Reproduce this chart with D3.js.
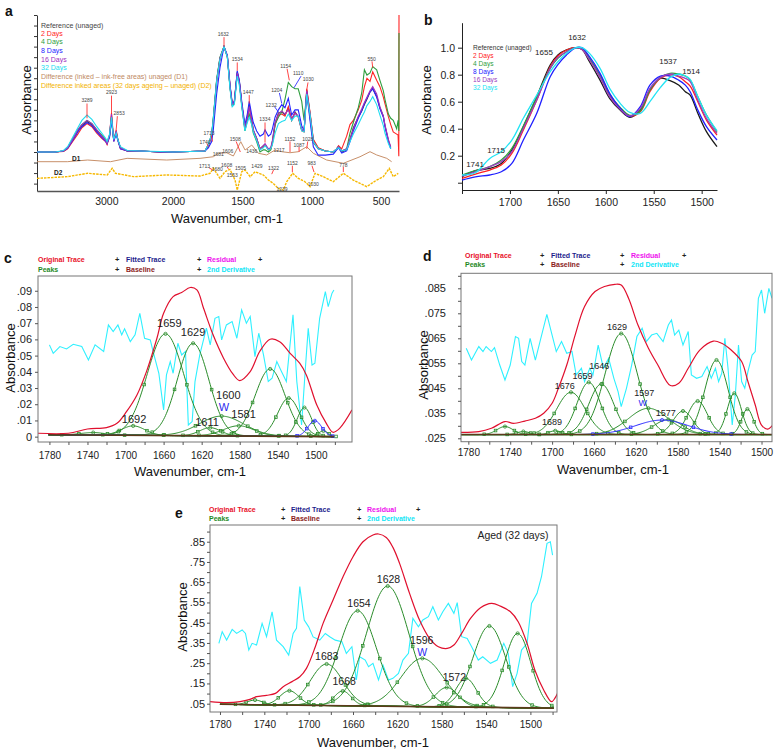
<!DOCTYPE html>
<html><head><meta charset="utf-8">
<script src="https://cdn.jsdelivr.net/npm/d3@7/dist/d3.min.js"></script>
<style>
html,body{margin:0;padding:0;background:#fff;}
svg text{font-family:"Liberation Sans",Arial,Helvetica,sans-serif;}
</style></head><body>
<svg id="fig" width="776" height="752"></svg>
<script>
// ================= DATA =================
// ---- Panel a: FTIR spectra (relative absorbance) ----
const aWn = [4150,3834,3693,3623,3535,3447,3377,3289,3216,3143,
3069,3011,2989,2952,2923,2904,2889,2853,2829,2789,
2685,2491,2194,2000,1877,1769,1745,1721,1710,1685,
1661,1632,1608,1589,1573,1558,1537,1522,1505,1482,
1465,1451,1433,1422,1398,1374,1350,1338,1314,1297,
1285,1266,1242,1218,1195,1171,1147,1123,1100,1075,
1058,1039,1015,990,953,900,840,815,801,777,
740,715,690,653,627,607,588,565,546,524,
506,487,478,459,446,432,413,405,401,400];
const aRef = [0,0,0.01,0.04,0.12,0.2,0.25,0.29,0.26,0.2,
0.15,0.11,0.08,0.15,0.34,0.2,0.11,0.19,0.12,0.04,
0.01,0.01,0,0,0.005,0.01,0.067,0.16,0.3,0.68,
0.89,1.0,0.905,0.62,0.45,0.47,0.76,0.67,0.46,0.225,
0.32,0.45,0.3,0.21,0.13,0.03,0.06,0.07,0.02,0.03,
0.1,0.27,0.37,0.38,0.35,0.42,0.3,0.38,0.335,0.21,
0.2,0.59,0.37,0.11,0.035,0.01,0,0.03,0.05,0,
0.02,0.12,0.23,0.33,0.39,0.45,0.5,0.57,0.6,0.53,
0.42,0.34,0.25,0.11,0.04,null,null,null,null,null];
const aDay2 = [0,0,0.005,0.03,0.1,0.17,0.23,0.27,0.24,0.18,
0.13,0.1,0.07,0.16,0.37,0.22,0.1,0.21,0.12,0.03,
0.01,0.01,0,0,0.005,0.01,0.06,0.15,0.28,0.66,
0.88,1.0,0.91,0.63,0.46,0.48,0.74,0.66,0.45,0.22,
0.3,0.43,0.29,0.2,0.12,0.03,0.05,0.07,0.02,0.03,
0.09,0.26,0.35,0.36,0.34,0.43,0.31,0.37,0.33,0.2,
0.19,0.6,0.38,0.12,0.04,0.01,0,0.03,0.06,0.03,
0.15,0.26,0.3,0.4,0.49,0.62,0.7,0.67,0.76,0.68,
0.62,0.52,0.46,0.335,0.26,0.19,0.17,0.16,-0.04,1.3];
const aDay4 = [0,0,0.01,0.04,0.13,0.21,0.26,0.3,0.27,0.21,
0.16,0.12,0.09,0.16,0.33,0.2,0.12,0.18,0.12,0.04,
0.01,0.01,0,0,0.005,0.01,0.07,0.17,0.31,0.69,
0.9,1.0,0.9,0.61,0.44,0.46,0.75,0.66,0.45,0.2,
0.3,0.36,0.26,0.18,0.1,0.0,0.02,0.02,0.0,0.02,
0.08,0.26,0.33,0.38,0.5,0.66,0.62,0.6,0.6,0.48,
0.3,0.56,0.33,0.09,0.03,0.01,0,0.03,0.05,0.01,
0.03,0.18,0.28,0.42,0.56,0.78,0.73,0.75,0.81,0.78,
0.68,0.58,0.5,0.36,0.32,0.3,0.22,0.3,0.2,1.13];
const aDay8 = [0,0,0.01,0.035,0.11,0.19,0.24,0.28,0.25,0.19,
0.14,0.1,0.08,0.14,0.3,0.19,0.1,0.17,0.11,0.03,
0.01,0.01,0,0,0.005,0.01,0.04,0.1,0.2,0.55,
0.8,1.0,0.92,0.64,0.46,0.48,0.77,0.68,0.48,0.26,
0.36,0.48,0.35,0.28,0.2,0.15,0.17,0.21,0.15,0.17,
0.22,0.33,0.4,0.45,0.42,0.51,0.35,0.4,0.4,0.25,
0.2,0.57,0.3,0.05,-0.03,-0.03,-0.02,0.02,0.04,-0.01,
0.01,0.1,0.2,0.32,0.39,0.46,0.51,0.57,0.6,0.52,
0.41,0.33,0.24,0.1,0.03,null,null,null,null,null];
const aDay16 = [0,0,0.01,0.04,0.12,0.21,0.26,0.3,0.27,0.21,
0.15,0.11,0.08,0.16,0.36,0.21,0.11,0.2,0.12,0.04,
0.01,0.01,0,0,0.005,0.01,0.065,0.16,0.29,0.67,
0.89,1.0,0.91,0.62,0.45,0.47,0.75,0.66,0.46,0.22,
0.31,0.43,0.29,0.21,0.13,0.03,0.06,0.08,0.03,0.04,
0.11,0.28,0.36,0.39,0.36,0.4,0.31,0.37,0.34,0.21,
0.2,0.58,0.36,0.1,0.03,0.01,0,0.03,0.05,0.01,
0.03,0.12,0.22,0.34,0.41,0.47,0.52,0.58,0.62,0.55,
0.43,0.34,0.26,0.12,0.05,null,null,null,null,null];
const aDay32 = [0,0,0.015,0.05,0.14,0.23,0.3,0.35,0.31,0.24,
0.18,0.13,0.1,0.17,0.33,0.2,0.12,0.18,0.12,0.05,
0.015,0.01,0.005,0,0.005,0.01,0.07,0.17,0.3,0.67,
0.88,1.0,0.9,0.6,0.43,0.45,0.72,0.63,0.43,0.2,
0.28,0.33,0.26,0.19,0.11,0.02,0.04,0.06,0.02,0.03,
0.07,0.18,0.27,0.29,0.3,0.36,0.3,0.34,0.34,0.2,
0.19,0.55,0.36,0.1,0.03,0.01,0,0.03,0.04,0.01,
0.02,0.1,0.17,0.26,0.33,0.38,0.44,0.48,0.525,0.45,
0.35,0.25,0.18,0.08,0.03,null,null,null,null,null];
const aD1 = [[4150,-0.092],[3628,-0.092],[3279,-0.076],[2938,-0.092],[2689,-0.06],[2094,-0.076],[1805,-0.06],[1709,-0.045],[1673,-0.012],[1613,-0.007],[1565,-0.038],[1512,0.098],[1481,0.019],[1433,0.066],[1386,-0.012],[1326,-0.028],[1266,0.019],[1218,0.003],[1159,-0.007],[1099,0.003],[1039,0.05],[990,-0.012],[890,-0.076],[765,-0.107],[640,-0.045],[565,0.003],[524,-0.028],[468,-0.06],[441,-0.092]];
const aD2 = [[4150,-0.25],[3628,-0.234],[3279,-0.202],[2986,-0.218],[2913,-0.155],[2864,-0.202],[2591,-0.234],[2094,-0.218],[1805,-0.228],[1733,-0.202],[1709,-0.155],[1661,-0.25],[1625,-0.187],[1589,-0.165],[1553,-0.266],[1537,-0.361],[1505,-0.187],[1481,-0.171],[1445,-0.234],[1409,-0.187],[1350,-0.218],[1314,-0.266],[1279,-0.297],[1243,-0.345],[1207,-0.361],[1183,-0.282],[1140,-0.202],[1099,-0.25],[1052,-0.282],[1015,-0.329],[977,-0.202],[915,-0.234],[840,-0.282],[765,-0.202],[690,-0.266],[590,-0.329],[524,-0.266],[487,-0.234],[454,-0.155],[432,-0.234],[404,-0.202]];
const aTicks = [3000,2000,1500,1000,500];
const aSeriesNames = ["Reference (unaged)","2 Days","4 Days","8 Days","16 Days","32 Days"];
const aDiffNames = ["Difference (inked \u2013 ink-free areas) unaged (D1)","Difference inked areas (32 days ageing \u2013 unaged)  (D2)"];
const aPeakLabels = [["3289",3289,0.497],["2923",2923,0.565],["2853",2808,0.37],["1632",1637,1.12],["1534",1537,0.88],["1447",1458,0.57],["1334",1339,0.313],["1232",1294,0.45],["1204",1254,0.59],["1154",1190,0.817],["1110",1100,0.75],["1030",1028,0.693],["550",553,0.883],["1713",1740,0.18],["1740",1769,0.095],["1508",1551,0.126],["1436",1433,0.005],["1681",1673,-0.02],["1606",1605,0.005],["1217",1238,0.02],["1152",1159,0.12],["1087",1094,0.07],["1028",1032,0.123],["1713",1772,-0.13],["1680",1680,-0.16],["1608",1613,-0.12],["1553",1573,-0.22],["1505",1514,-0.152],["1429",1396,-0.136],["1322",1277,-0.155],["1239",1216,-0.35],["1152",1142,-0.107],["983",1002,-0.107],["1030",990,-0.30],["778",765,-0.12]];
const aLeaders = [[3289,0.46,3289,0.32,"r"],[2923,0.535,2923,0.37,"r"],[2835,0.34,2853,0.21,"r"],[1632,1.09,1632,1.0,"r"],[1537,0.85,1537,0.77,"r"],[1451,0.54,1451,0.46,"r"],[1338,0.28,1338,0.09,"r"],[1270,0.43,1242,0.38,"b"],[1235,0.56,1218,0.46,"b"],[1180,0.79,1164,0.68,"r"],[1080,0.72,1130,0.61,"b"],[1030,0.66,1039,0.59,"r"],[550,0.86,546,0.8,"r"],[1725,0.16,1715,0.1,"r"],[1755,0.08,1745,0.05,"r"],[1545,0.1,1515,0.0,"r"],[1159,0.1,1159,0.0,"r"],[1094,0.05,1094,0.0,"r"],[1032,0.1,1039,0.03,"r"],[1740,-0.15,1713,-0.17,"r"],[1610,-0.14,1600,-0.16,"r"],[1277,-0.17,1290,-0.21,"r"],[1142,-0.13,1142,-0.19,"r"],[1000,-0.13,985,-0.19,"r"],[765,-0.14,765,-0.19,"r"]];

// ---- Panel b: normalised amide region ----
const bWn = [1750,1736,1721,1709,1698,1686,1672,1658,1650,1641,1631,1625,1617,1606,1596,1585,1575,1564,1554,1543,1533,1524,1517,1512,1504,1495,1484];
const bRef = [0.044,0.089,0.106,0.143,0.242,0.415,0.637,0.872,0.946,0.983,1.0,0.988,0.896,0.76,0.625,0.538,0.484,0.538,0.686,0.773,0.756,0.723,0.674,0.649,0.514,0.378,0.267];
const bDay2 = [0.032,0.064,0.094,0.131,0.217,0.39,0.612,0.859,0.938,0.983,1.0,0.988,0.914,0.785,0.649,0.551,0.494,0.526,0.674,0.773,0.798,0.785,0.748,0.716,0.6,0.464,0.353];
const bDay4 = [0.057,0.089,0.119,0.168,0.254,0.42,0.637,0.847,0.921,0.97,1.0,0.995,0.921,0.798,0.657,0.558,0.499,0.533,0.686,0.78,0.81,0.805,0.79,0.76,0.637,0.501,0.378];
const bDay8 = [0.02,0.044,0.057,0.081,0.143,0.316,0.514,0.785,0.874,0.946,1.0,1.0,0.933,0.81,0.662,0.551,0.489,0.563,0.723,0.79,0.79,0.76,0.723,0.674,0.538,0.415,0.316];
const bDay16 = [0.049,0.081,0.119,0.156,0.23,0.402,0.612,0.847,0.928,0.97,1.0,0.988,0.909,0.78,0.637,0.543,0.494,0.551,0.699,0.78,0.805,0.79,0.773,0.748,0.612,0.477,0.365];
const bDay32 = [0.057,0.074,0.18,0.23,0.316,0.477,0.649,0.822,0.896,0.958,1.0,1.0,0.958,0.847,0.699,0.588,0.521,0.514,0.6,0.706,0.78,0.805,0.79,0.765,0.637,0.501,0.385];
const bXTicks = [1750,1700,1650,1600,1550,1500];
const bYTicks = [0,0.2,0.4,0.6,0.8,1.0];
const bPeakLabels = [["1632",1630,1.079],["1655",1664.5,0.968],["1537",1535,0.894],["1514",1511,0.827],["1715",1714.5,0.235],["1741",1736.4,0.1385]];

// ---- Panels c, d, e: curve fitting (peaks: [centre, height, FWHM]) ----
const fitLegend = [["Original Trace","#e8102a"],["Fitted Trace","#1c1c8c"],["Residual","#ee10ee"],["Peaks","#1f8a1f"],["Baseline","#8b1c1c"],["2nd Derivative","#10e6f6"]];

const cRed = [[1792,0.0021],[1760,0.0021],[1740,0.0047],[1720,0.0056],[1709,0.0082],[1699,0.0154],[1688,0.0257],[1678,0.0401],[1667,0.0607],[1660,0.0761],[1650,0.0864],[1641,0.0889],[1632,0.092],[1625,0.0905],[1618,0.0792],[1608,0.0628],[1597,0.0484],[1587,0.0385],[1580,0.0346],[1569,0.0401],[1559,0.0525],[1548,0.0601],[1538,0.0586],[1527,0.0514],[1517,0.0453],[1510,0.0381],[1499,0.0195],[1489,0.0082],[1482,0.0027],[1475,0.0051],[1462,0.0165]];
const cDeriv = [[1780,0.0566],[1776,0.0514],[1769,0.0556],[1762,0.0541],[1755,0.057],[1746,0.0556],[1739,0.0473],[1732,0.0566],[1723,0.0525],[1718,0.0689],[1713,0.0648],[1708,0.0689],[1704,0.0628],[1701,0.0665],[1695,0.0586],[1690,0.0628],[1685,0.0761],[1680,0.0607],[1674,0.0597],[1671,0.0525],[1665,0.0391],[1660,0.0165],[1657,0.0381],[1653,0.0463],[1650,0.0391],[1645,0.0576],[1641,0.0504],[1637,0.0525],[1634,0.0072],[1630,0.0093],[1627,0.034],[1622,0.0504],[1615,0.0669],[1611,0.0566],[1606,0.073],[1602,0.0741],[1599,0.0597],[1594,0.0689],[1588,0.071],[1583,0.0607],[1578,0.0782],[1573,0.07],[1569,0.0741],[1564,0.0494],[1560,0.0638],[1555,0.0504],[1550,0.034],[1546,0.036],[1541,0.0463],[1536,0.0401],[1531,0.034],[1524,0.0751],[1520,0.034],[1515,0.0072],[1511,0.0422],[1508,0.0669],[1504,0.0442],[1501,0.0453],[1496,0.073],[1490,0.0895],[1487,0.0802],[1483,0.0885],[1481,0.0905]];
const cPeaks = [[1734,0.0015,30],[1692,0.0058,29],[1658,0.0627,45],[1629,0.057,39],[1611,0.005,26],[1599,0.0122,55],[1581,0.0063,38],[1548,0.0415,37],[1528.5,0.0236,27],[1512,0.0178,18],[1492,0.0035,12]];
const cBluePeaks = [[1501,0.0097,17]];
const cBaseline = [[1781,0.0012],[1481,0.0]];
const cLabels = [["1659",1654,0.07],["1629",1629,0.0644],["1600",1592,0.0257],["1581",1576,0.0138],["1611",1614.4,0.0093],["1692",1691,0.0109]];
const cW = [["W",1596.5,0.0185]];
const cYTicks = [0,0.01,0.02,0.03,0.04,0.05,0.06,0.07,0.08,0.09];

const dRed = [[1787,0.0274],[1770,0.0277],[1758,0.029],[1745,0.0317],[1737,0.031],[1726,0.0319],[1716,0.033],[1708,0.035],[1700,0.039],[1694,0.045],[1686,0.0543],[1678,0.0663],[1669,0.0777],[1659,0.0837],[1650,0.0857],[1640,0.0866],[1634,0.0863],[1627,0.081],[1618,0.0703],[1608,0.061],[1599,0.0543],[1587,0.0461],[1579,0.047],[1570,0.053],[1559,0.0603],[1546,0.0639],[1538,0.063],[1529,0.0603],[1519,0.0557],[1513,0.0477],[1506,0.0383],[1500,0.0303],[1494,0.0287],[1488,0.031]];
const dDeriv = [[1782,0.061],[1777,0.0563],[1770,0.0617],[1766,0.0597],[1763,0.0617],[1758,0.0597],[1755,0.0613],[1750,0.0543],[1745,0.0483],[1740,0.0543],[1735,0.0657],[1732,0.065],[1729,0.0557],[1726,0.0543],[1721,0.065],[1716,0.0563],[1710,0.0663],[1705,0.0746],[1700,0.0663],[1696,0.0597],[1691,0.0637],[1686,0.059],[1681,0.0597],[1677,0.0503],[1672,0.053],[1669,0.0477],[1664,0.053],[1661,0.0503],[1656,0.0623],[1651,0.053],[1646,0.057],[1641,0.049],[1637,0.0437],[1634,0.0377],[1629,0.045],[1624,0.0543],[1619,0.0657],[1614,0.069],[1610,0.0637],[1605,0.0663],[1600,0.067],[1594,0.0637],[1589,0.0703],[1586,0.0723],[1583,0.0663],[1579,0.0683],[1575,0.0623],[1570,0.0677],[1567,0.0503],[1562,0.049],[1557,0.0497],[1552,0.0537],[1548,0.049],[1544,0.053],[1541,0.0477],[1538,0.051],[1535,0.065],[1532,0.053],[1528,0.0303],[1525,0.0423],[1522,0.0623],[1519,0.0477],[1516,0.045],[1513,0.0517],[1509,0.0583],[1506,0.0597],[1503,0.081],[1500,0.0843],[1497,0.075],[1493,0.085],[1490,0.081]];
const dPeaks = [[1745,0.0032,18],[1727.5,0.0012,14],[1697,0.0015,14],[1682,0.0169,32],[1665,0.0209,26],[1653,0.0202,28],[1634,0.0404,36],[1608,0.0105,45],[1589,0.006,32],[1575,0.0094,22],[1561,0.0134,22],[1543,0.0298,26],[1526,0.0165,16],[1513.5,0.0102,13]];
const dBluePeaks = [[1595,0.0058,60]];
const dBaseline = [[1787,0.0265],[1490,0.0265]];
const dLabels = [["1629",1638,0.0696],["1646",1655,0.054],["1659",1671,0.05],["1676",1688,0.046],["1597",1612,0.043],["1577",1591.5,0.035],["1689",1700,0.0316]];
const dW = [["W",1613.5,0.0392]];
const dYTicks = [0.025,0.03,0.035,0.04,0.045,0.05,0.055,0.06,0.065,0.07,0.075,0.08,0.085,0.09];

const eRed = [[1789,0.0599],[1774,0.0549],[1762,0.0599],[1753,0.0714],[1747,0.0846],[1738,0.0912],[1730,0.101],[1723,0.134],[1715,0.159],[1708,0.183],[1702,0.2245],[1694,0.3315],[1687,0.4467],[1678,0.562],[1669,0.677],[1660,0.776],[1651,0.85],[1642,0.883],[1637,0.888],[1630,0.871],[1624,0.822],[1618,0.743],[1609,0.595],[1600,0.463],[1591,0.3726],[1583,0.3315],[1575,0.323],[1569,0.3397],[1562,0.397],[1554,0.471],[1545,0.524],[1535,0.5455],[1527,0.532],[1518,0.504],[1511,0.455],[1503,0.348],[1496,0.2163],[1488,0.1175],[1481,0.06],[1478,0.076],[1473,0.134]];
const eDeriv = [[1781,0.348],[1778,0.4056],[1774,0.364],[1769,0.417],[1765,0.397],[1760,0.414],[1757,0.397],[1754,0.315],[1751,0.348],[1747,0.34],[1742,0.4467],[1738,0.381],[1733,0.504],[1729,0.364],[1723,0.3315],[1718,0.2903],[1714,0.397],[1711,0.422],[1708,0.628],[1704,0.4626],[1700,0.4296],[1696,0.38],[1690,0.364],[1685,0.397],[1681,0.381],[1676,0.364],[1670,0.356],[1666,0.2986],[1661,0.3315],[1657,0.1669],[1654,0.282],[1649,0.2656],[1646,0.2327],[1642,0.2492],[1637,0.1669],[1633,0.241],[1628,0.1669],[1624,0.1751],[1619,0.1998],[1615,0.2656],[1610,0.2986],[1606,0.4714],[1601,0.4303],[1597,0.4632],[1592,0.4797],[1588,0.529],[1583,0.4632],[1579,0.504],[1574,0.5455],[1569,0.496],[1566,0.5488],[1562,0.381],[1557,0.3726],[1553,0.3315],[1547,0.2656],[1543,0.282],[1536,0.2492],[1530,0.2656],[1524,0.348],[1520,0.2986],[1516,0.134],[1512,0.1998],[1508,0.315],[1503,0.348],[1499,0.5455],[1494,0.5949],[1490,0.677],[1485,0.8418],[1482,0.85],[1480,0.784]];
const ePeaks = [[1748.4,0.023,16],[1717.4,0.071,20],[1683.8,0.205,34],[1669.3,0.0725,18],[1655.8,0.47,40],[1628.7,0.5935,45],[1597.5,0.2385,45],[1575.5,0.096,24],[1558.1,0.142,22],[1537,0.402,35],[1511.5,0.367,28]];
const eBluePeaks = [];
const eBaseline = [[1780,0.047],[1479,0.028]];
const eLabels = [["1628",1628,0.666],["1654",1654.6,0.546],["1596",1598,0.3646],["1683",1683.7,0.2856],["1668",1668,0.1636],["1572",1568.6,0.183]];
const eW = [["W",1597.5,0.3068]];
const eNote = [["Aged (32 days)",1515.7,0.883]];
const eYTicks = [0.05,0.1,0.15,0.2,0.25,0.3,0.35,0.4,0.45,0.5,0.55,0.6,0.65,0.7,0.75,0.8,0.85,0.9];
const fitXTicks = [1780,1760,1740,1720,1700,1680,1660,1640,1620,1600,1580,1560,1540,1520,1500,1480];

// ================= DRAWING =================
const svg = d3.select("#fig");
const defs = svg.append("defs");
function clip(id, x, y, w, h){ defs.append("clipPath").attr("id", id).append("rect").attr("x", x).attr("y", y).attr("width", w).attr("height", h); return `url(#${id})`; }
function panelLetter(t, x, y){ svg.append("text").attr("x", x).attr("y", y).attr("font-size", 14).attr("font-weight", "bold").attr("fill", "#111").text(t); }
function axisTitleY(t, x, y, fs){ svg.append("text").attr("transform", `translate(${x},${y}) rotate(-90)`).attr("text-anchor","middle").attr("font-size", fs).attr("fill","#111").text(t); }
function axisTitleX(t, x, y, fs){ svg.append("text").attr("x", x).attr("y", y).attr("text-anchor","middle").attr("font-size", fs).attr("fill","#111").text(t); }

// ----- Panel a -----
(function(){
  const colors = ["#3a3a3a","#ff2424","#2e9e3e","#2424ff","#a030c0","#20dcf0"];
  const series = [aRef, aDay2, aDay4, aDay8, aDay16, aDay32];
  const x = d3.scaleLinear().domain([4150,3289,2923,2000,1632,1030,550,400]).range([37,87,111.5,173,224,308,372,399]);
  const y = d3.scaleLinear().domain([-0.37,1.30]).range([191,15]);
  const g = svg.append("g");
  const cp = clip("clipA", 37, 10, 366, 181);
  g.append("g").attr("transform","translate(37,0)")
    .call(d3.axisLeft(y).tickValues(d3.range(-3,14).map(k=>k/10)).tickSize(3).tickSizeOuter(0).tickFormat(""))
    .call(s=>s.selectAll("path,line").attr("stroke","#333"));
  g.append("g").attr("transform","translate(0,191)")
    .call(d3.axisBottom(x).tickValues(aTicks).tickSize(0).tickPadding(7).tickFormat(d3.format("d")))
    .call(s=>{ s.select("path").attr("stroke","#555").attr("stroke-width",1.5); s.selectAll("text").attr("font-size",10.5).attr("fill","#222").attr("font-family","Liberation Sans, Arial, sans-serif"); });
  const plot = g.append("g").attr("clip-path", cp);
  const line = d3.line().defined(d=>d[1]!==null).x(d=>x(d[0])).y(d=>y(d[1]));
  plot.append("path").datum(aD1).attr("d", line).attr("fill","none").attr("stroke","#c8906a").attr("stroke-width",1);
  plot.append("path").datum(aD2).attr("d", line).attr("fill","none").attr("stroke","#f6b800").attr("stroke-width",1.4).attr("stroke-dasharray","2.5,1");
  series.forEach((vals,i)=>{
    const pts = aWn.map((w,k)=>[w, vals[k]]);
    plot.append("path").datum(pts).attr("d", line).attr("fill","none").attr("stroke", colors[i]).attr("stroke-width",1.1);
  });
  aLeaders.forEach(l=>{
    g.append("line").attr("x1",x(l[0])).attr("y1",y(l[1])).attr("x2",x(l[2])).attr("y2",y(l[3]))
      .attr("stroke", l[4]==="b" ? "#3030ff" : "#ff3030").attr("stroke-width",0.9);
  });
  aPeakLabels.forEach(l=>{
    g.append("text").attr("x",x(l[1])).attr("y",y(l[2])).attr("text-anchor","middle").attr("dominant-baseline","central")
      .attr("font-size",5).attr("fill","#444").text(l[0]);
  });
  g.append("text").attr("x",72).attr("y",161).attr("font-size",6.5).attr("font-weight","bold").attr("fill","#222").text("D1");
  g.append("text").attr("x",54).attr("y",175).attr("font-size",6.5).attr("font-weight","bold").attr("fill","#222").text("D2");
  const legY = [25,33.3,41.7,50.5,59.2,67.8];
  aSeriesNames.forEach((n,i)=>{
    g.append("text").attr("x",41).attr("y",legY[i]+2.5).attr("font-size",7).attr("fill", i===0 ? "#444" : colors[i]).text(n);
  });
  g.append("text").attr("x",41).attr("y",76.3+2.5).attr("font-size",7).attr("fill","#c08a64").text(aDiffNames[0]);
  g.append("text").attr("x",41).attr("y",85+2.5).attr("font-size",7).attr("fill","#f2b200").text(aDiffNames[1]);
  axisTitleY("Absorbance", 31, 100, 13);
  axisTitleX("Wavenumber, cm-1", 227, 223, 13);
  panelLetter("a", 5, 16);
})();

// ----- Panel b -----
(function(){
  const colors = ["#1a1a1a","#ff2020","#2e9e3e","#2020ff","#9a40c0","#22e4f4"];
  const series = [bRef, bDay2, bDay4, bDay8, bDay16, bDay32];
  const x = d3.scaleLinear().domain([1750,1484]).range([462,717]);
  const y = d3.scaleLinear().domain([-0.054,1.185]).range([190,22.7]);
  const g = svg.append("g");
  g.append("g").attr("transform","translate(462,0)")
    .call(d3.axisLeft(y).tickValues(bYTicks).tickSize(4).tickSizeOuter(0).tickPadding(3).tickFormat(d=> d===0 ? "" : d.toFixed(1)))
    .call(s=>{ s.selectAll("path,line").attr("stroke","#222"); s.selectAll("text").attr("font-size",10.5).attr("fill","#222").attr("font-family","Liberation Sans, Arial, sans-serif"); });
  g.append("g").attr("transform","translate(0,190)")
    .call(d3.axisBottom(x).tickValues(bXTicks).tickSize(4).tickSizeOuter(0).tickPadding(5).tickFormat(d=> d===1750 ? "" : d))
    .call(s=>{ s.selectAll("path,line").attr("stroke","#222"); s.selectAll("text").attr("font-size",10.5).attr("fill","#222").attr("font-family","Liberation Sans, Arial, sans-serif"); });
  const line = d3.line().x(d=>x(d[0])).y(d=>y(d[1])).curve(d3.curveCatmullRom.alpha(0.5));
  series.forEach((vals,i)=>{
    g.append("path").datum(bWn.map((w,k)=>[w, vals[k]])).attr("d", line).attr("fill","none").attr("stroke", colors[i]).attr("stroke-width",1.3);
  });
  bPeakLabels.forEach(l=>{
    g.append("text").attr("x",x(l[1])).attr("y",y(l[2])).attr("text-anchor","middle").attr("dominant-baseline","central")
      .attr("font-size",8).attr("fill","#222").text(l[0]);
  });
  const legY = [47.7,55.7,63.7,72,80,88];
  aSeriesNames.forEach((n,i)=>{
    g.append("text").attr("x",473).attr("y",legY[i]+2.3).attr("font-size",6.6).attr("fill", i===0 ? "#333" : colors[i]).text(n);
  });
  axisTitleY("Absorbance", 431, 100, 13);
  panelLetter("b", 424, 25);
})();

// ----- Panels c, d, e -----
function drawFit(p){
  const [bx0,bx1,by0,by1] = p.box;
  const x = d3.scaleLinear().domain(p.xDomain).range([bx0,bx1]);
  const y = d3.scaleLinear().domain(p.yDomain).range([by1,by0]);
  const g = svg.append("g");
  const cp = clip("clip"+p.id, bx0, by0, bx1-bx0, by1-by0);
  const plot = g.append("g").attr("clip-path", cp);
  const lin = d3.line().x(d=>x(d[0])).y(d=>y(d[1]));
  const smooth = d3.line().x(d=>x(d[0])).y(d=>y(d[1])).curve(d3.curveCatmullRom.alpha(0.5));
  const base = w => { const a = p.baseline[0], b = p.baseline[1]; const t = (w - a[0])/(b[0]-a[0]); return a[1] + t*(b[1]-a[1]); };
  const hi = Math.max(...p.xDomain), lo = Math.min(...p.xDomain);
  const gauss = (pk, w) => base(w) + pk[1]*Math.exp(-4*Math.LN2*Math.pow((w-pk[0])/pk[2],2));
  plot.append("path").datum(p.deriv).attr("d", lin).attr("fill","none").attr("stroke","#2ef0ff").attr("stroke-width",1.1);
  const wns = d3.range(p.baseline[0][0], p.baseline[1][0]-0.5, -1);
  function drawPeak(pk, color){
    const pts = wns.map(w=>[w, gauss(pk,w)]);
    plot.append("path").datum(pts).attr("d", lin).attr("fill","none").attr("stroke", color).attr("stroke-width",1);
    [-1.1,-0.5,0.5,1.1].forEach(f=>{
      const w = pk[0] + f*pk[2];
      if (w < lo || w > hi) return;
      plot.append("rect").attr("x", x(w)-1.3).attr("y", y(gauss(pk,w))-1.3).attr("width",2.6).attr("height",2.6)
        .attr("fill","#fff").attr("fill-opacity",0.2).attr("stroke", color).attr("stroke-width",0.8);
    });
    plot.append("circle").attr("cx", x(pk[0])).attr("cy", y(gauss(pk,pk[0]))).attr("r",1.6).attr("fill","none").attr("stroke", color).attr("stroke-width",0.8);
  }
  p.peaks.forEach(pk=>drawPeak(pk, "#2a8c2a"));
  p.blue.forEach(pk=>drawPeak(pk, "#2a2aff"));
  plot.append("path").datum(p.baseline).attr("d", lin).attr("fill","none").attr("stroke","#5b3a1a").attr("stroke-width",1.6);
  plot.append("path").datum(p.red).attr("d", smooth).attr("fill","none").attr("stroke","#e0102e").attr("stroke-width",1.2);
  g.append("rect").attr("x",bx0).attr("y",by0).attr("width",bx1-bx0).attr("height",by1-by0).attr("fill","none").attr("stroke","#777").attr("stroke-width",1);
  const ticksX = fitXTicks.filter(v=>v>=lo && v<=hi);
  g.append("g").attr("transform",`translate(0,${by1})`)
    .call(d3.axisBottom(x).tickValues(ticksX).tickSize(3).tickSizeOuter(0).tickPadding(p.xPad).tickFormat(d=> (d%40===20) ? d : ""))
    .call(s=>{ s.select("path").remove(); s.selectAll("line").attr("stroke","#555"); s.selectAll("text").attr("font-size",10).attr("fill","#222").attr("font-family","Liberation Sans, Arial, sans-serif"); });
  g.append("g").attr("transform",`translate(${bx0},0)`)
    .call(d3.axisLeft(y).tickValues(p.yTicks).tickSize(3).tickSizeOuter(0).tickPadding(p.yPad).tickFormat(p.yFmt))
    .call(s=>{ s.select("path").remove(); s.selectAll("line").attr("stroke","#555"); s.selectAll("text").attr("font-size",11).attr("fill","#222").attr("font-family","Liberation Sans, Arial, sans-serif"); });
  p.labels.forEach(l=>{
    g.append("text").attr("x",x(l[1])).attr("y",y(l[2])).attr("text-anchor","middle").attr("dominant-baseline","central")
      .attr("font-size",p.labelSize).attr("fill","#222").text(l[0]);
  });
  p.w.forEach(l=>{
    g.append("text").attr("x",x(l[1])).attr("y",y(l[2])).attr("text-anchor","middle").attr("dominant-baseline","central")
      .attr("font-size",p.labelSize).attr("fill","#2a2aee").text(l[0]);
  });
  (p.notes||[]).forEach(l=>{
    g.append("text").attr("x",x(l[1])).attr("y",y(l[2])).attr("text-anchor","middle").attr("dominant-baseline","central")
      .attr("font-size",10.5).attr("fill","#222").text(l[0]);
  });
  const L = p.legend;
  fitLegend.forEach((e,i)=>{
    const row = i<3 ? 0 : 1, col = i%3;
    g.append("text").attr("x", L.cols[col]).attr("y", L.rows[row]).attr("dominant-baseline","central").attr("font-size",7).attr("font-weight","bold").attr("fill", e[1]).text(e[0]);
    if (!(row===1 && col===2)) {
      g.append("text").attr("x", L.plus[col]).attr("y", L.rows[row]).attr("dominant-baseline","central").attr("font-size",7.5).attr("font-weight","bold").attr("fill","#222").text("+");
    }
  });
  axisTitleY("Absorbance", p.yTitle[0], p.yTitle[1], 13);
  axisTitleX("Wavenumber, cm-1", p.xTitle[0], p.xTitle[1], 13);
  panelLetter(p.id, p.letter[0], p.letter[1]);
}
const stripZero = f => v => { if (Math.abs(v) < 1e-9) return "0"; return d3.format(f)(v).replace(/^0\./, "."); };

drawFit({id:"c", box:[38,352,276,442], xDomain:[1792,1462], yDomain:[-0.0033,0.0991],
  red:cRed, deriv:cDeriv, peaks:cPeaks, blue:cBluePeaks, baseline:cBaseline, labels:cLabels, w:cW, labelSize:11,
  yTicks:cYTicks, yFmt:stripZero(".2f"), xPad:6.5, yPad:3,
  legend:{cols:[38,126,207], plus:[115,197,258], rows:[259,269]},
  yTitle:[15,358], xTitle:[190,476], letter:[4,263]});

drawFit({id:"d", box:[461,772,273.3,441.7], xDomain:[1787,1490], yDomain:[0.02364,0.091],
  red:dRed, deriv:dDeriv, peaks:dPeaks, blue:dBluePeaks, baseline:dBaseline, labels:dLabels, w:dW, labelSize:9,
  yTicks:dYTicks, yFmt:v=>{ const k=Math.round((v-0.025)/0.005); return k%2===0 ? d3.format(".3f")(v).replace(/^0\./,".") : ""; }, xPad:4.5, yPad:12,
  legend:{cols:[465,551,631], plus:[540,620,682], rows:[255,264.7]},
  yTitle:[428,365], xTitle:[613,474], letter:[423,261]});

drawFit({id:"e", box:[210,557,525,712], xDomain:[1789,1476], yDomain:[0.009,0.9325],
  red:eRed, deriv:eDeriv, peaks:ePeaks, blue:eBluePeaks, baseline:eBaseline, labels:eLabels, w:eW, notes:eNote, labelSize:10.5,
  yTicks:eYTicks, yFmt:v=>{ const k=Math.round((v-0.05)/0.05); return k%2===0 ? d3.format(".2f")(v).replace(/^0\./,".") : ""; }, xPad:5.5, yPad:2,
  legend:{cols:[209,291,367], plus:[281,357,416], rows:[509,518]},
  yTitle:[187,617], xTitle:[373,747], letter:[175,518]});
</script></body></html>
